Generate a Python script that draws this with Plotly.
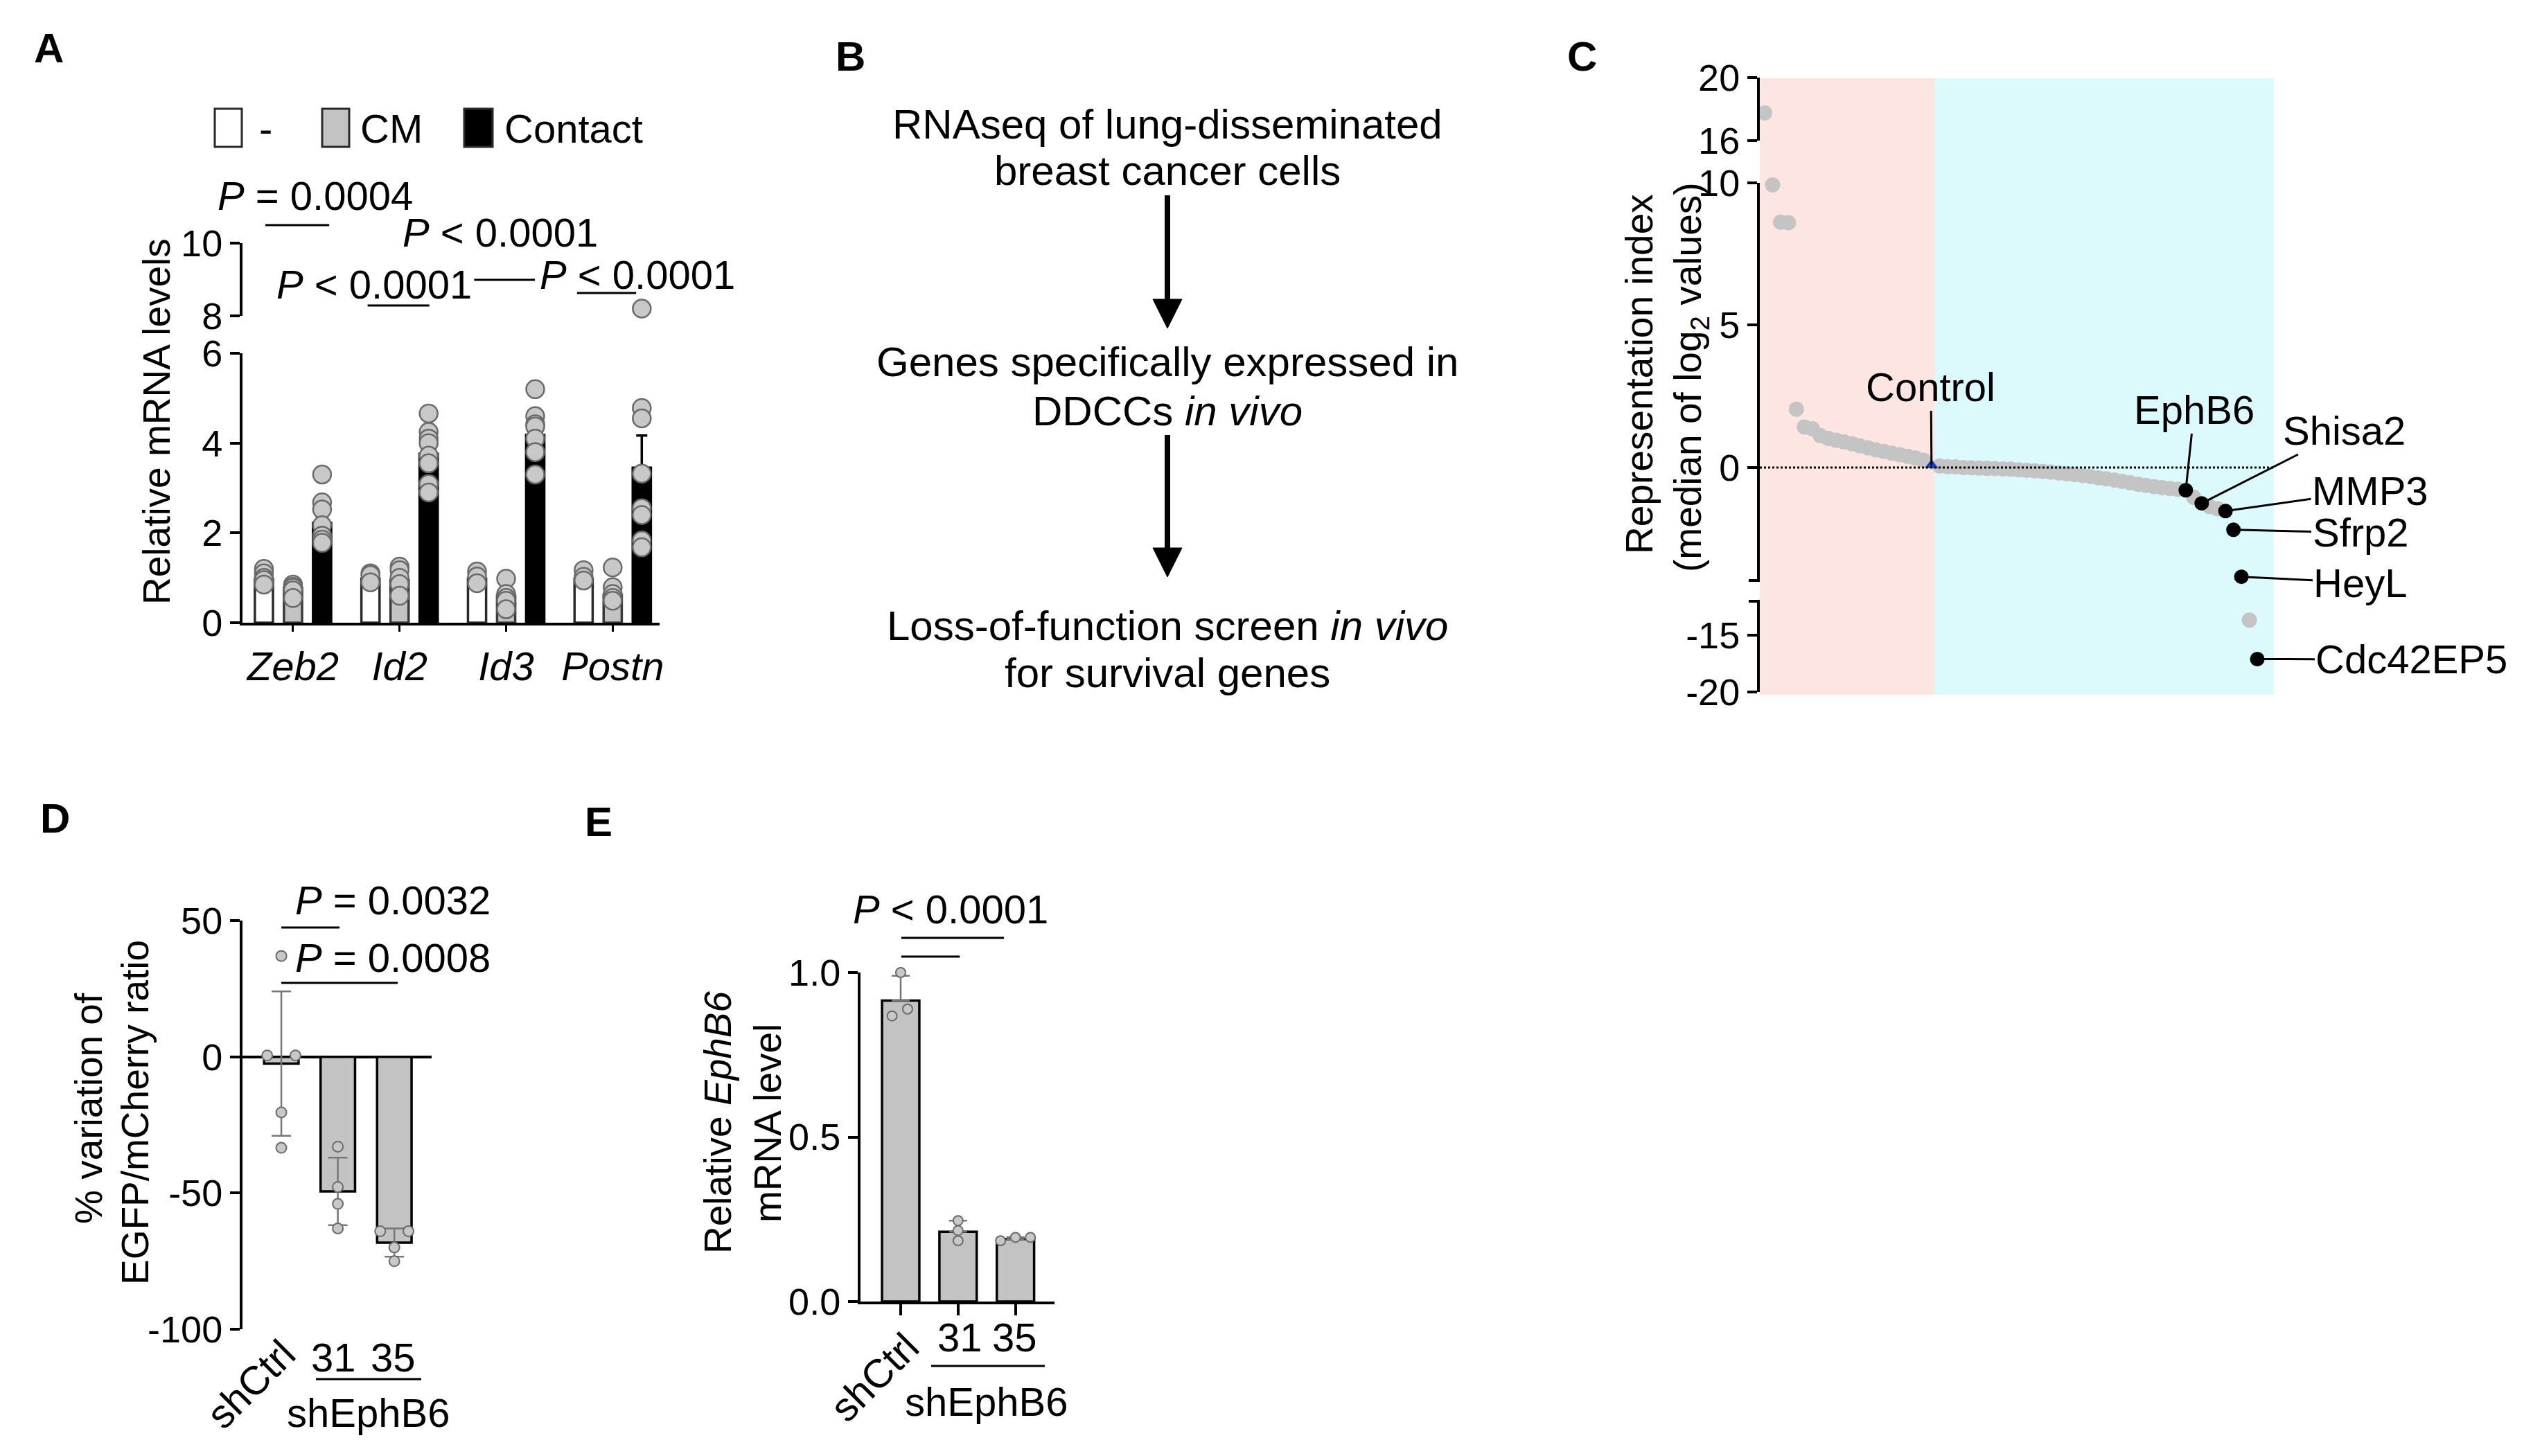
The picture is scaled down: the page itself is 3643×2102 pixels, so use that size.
import plotly.graph_objects as go

W, H = 3643, 2102
OFF = 8       # page margin of the browser, compensated
FONT = "Liberation Sans, Arial, Helvetica, sans-serif"
FS = 58       # horizontal texts
FSB = 60      # flow chart texts
FSV = 55      # rotated axis titles
TFS = 54      # tick labels
GRAY_FILL = "#c3c3c3"
DOT_FILL = "#c8c8c8"
DOT_LINE = "#6a6a6a"

# ---------------- Panel A data ----------------
A_genes = ["Zeb2", "Id2", "Id3", "Postn"]
A_mean_none = [0.97, 0.98, 0.98, 0.98]
A_mean_cm = [0.78, 0.95, 0.60, 0.62]
A_mean_contact = [2.22, 3.76, 4.18, 3.45]
A_sem_none = [0.06, 0.05, 0.05, 0.05]
A_sem_cm = [0.05, 0.10, 0.10, 0.12]
A_sem_contact = [0.20, 0.22, 0.25, 0.72]
A_dots_none = [[1.20, 1.10, 1.00, 0.95, 0.85], [1.10, 1.06, 0.90], [1.14, 1.03, 0.88], [1.17, 1.02, 0.94]]
A_dots_cm = [[0.85, 0.80, 0.78, 0.72, 0.55], [1.25, 1.17, 1.00, 0.86, 0.60],
             [0.98, 0.64, 0.55, 0.49, 0.30], [1.23, 0.79, 0.64, 0.55, 0.49]]
A_dots_contact = [[3.30, 2.68, 2.52, 2.17, 1.94, 1.85, 1.78],
                  [4.66, 4.25, 4.10, 4.00, 3.72, 3.55, 3.09, 2.90],
                  [5.20, 4.60, 4.42, 4.37, 4.10, 3.80, 3.30],
                  [8.20, 4.78, 4.55, 3.32, 2.55, 2.40, 1.83, 1.68]]
A_legend = ["-", "CM", "Contact"]

# ---------------- Panel B text ----------------
B_steps = [["RNAseq of lung-disseminated", "breast cancer cells"],
           ["Genes specifically expressed in", "DDCCs <i>in vivo</i>"],
           ["Loss-of-function screen <i>in vivo</i>", "for survival genes"]]

# ---------------- Panel C data ----------------
C_values = [17.76, 9.93, 8.62, 8.60, 2.05, 1.42, 1.36, 1.12, 1.02, 0.96,
            0.90, 0.83, 0.76, 0.69, 0.62, 0.56, 0.50, 0.45, 0.39, 0.33,
            0.25, 0.08, 0.05, 0.03, 0.02, 0.00, -0.01, -0.02, -0.03, -0.04,
            -0.05, -0.06, -0.08, -0.10, -0.12, -0.14, -0.16, -0.19, -0.22, -0.25,
            -0.28, -0.32, -0.36, -0.40, -0.44, -0.49, -0.54, -0.59, -0.63, -0.67,
            -0.71, -0.74, -0.77, -0.80, -1.05, -1.26, -1.38, -1.45, -1.53, -2.19,
            -3.84, -13.66, -17.10]
C_control_rank = 22
C_hit_names = ["EphB6", "Shisa2", "MMP3", "Sfrp2", "HeyL", "Cdc42EP5"]
C_hit_ranks = [54, 56, 59, 60, 61, 63]

# ---------------- Panel D data ----------------
D_groups = ["shCtrl", "31", "35"]
D_mean = [-2.5, -49.4, -68.2]
D_sd = [26.5, 12.4, 5.2]
D_dots = [[37.0, 0.5, 0.5, -20.4, -33.4], [-33.0, -47.8, -54.0, -63.0], [-64.0, -64.0, -70.0, -75.0]]
D_jitter = [[0, -0.25, 0.25, 0, 0], [0, 0, 0, 0], [-0.25, 0.25, 0, 0]]
D_ticks = [-100, -50, 0, 50]

# ---------------- Panel E data ----------------
E_groups = ["shCtrl", "31", "35"]
E_mean = [0.915, 0.212, 0.190]
E_sd = [0.075, 0.034, 0.006]
E_dots = [[1.00, 0.868, 0.889], [0.246, 0.216, 0.185], [0.185, 0.195, 0.195]]
E_jitter = [[0, -0.15, 0.12], [0, 0, 0], [-0.26, 0, 0.26]]


def fx(px):
    return (px - OFF) / W


def fy(py):
    return 1 - (py - OFF) / H


def font(size=FS, color="black"):
    return dict(family=FONT, size=size, color=color)


fig = go.Figure()
annotations = []
shapes = []


def txt(text, px, py, size=FS, angle=0, xanchor="center"):
    annotations.append(dict(text=text, x=fx(px), y=fy(py), xref="paper", yref="paper",
                            showarrow=False, font=font(size), xanchor=xanchor,
                            yanchor="middle", textangle=angle))


def pline(x0, x1, py, xref="paper", width=3):
    if xref == "paper":
        x0, x1 = fx(x0), fx(x1)
    shapes.append(dict(type="line", xref=xref, yref="paper", x0=x0, x1=x1,
                       y0=fy(py), y1=fy(py), line=dict(color="black", width=width)))


# ================= Panel A =================
A_off = [-0.273, 0.0, 0.273]
A_sets = [
    (A_mean_none, A_sem_none, A_dots_none, "white", "#2a2a2a"),
    (A_mean_cm, A_sem_cm, A_dots_cm, GRAY_FILL, "#3a3a3a"),
    (A_mean_contact, A_sem_contact, A_dots_contact, "black", "black"),
]
for k, (means, sems, dots, fill, lc) in enumerate(A_sets):
    xs = [i + A_off[k] for i in range(len(A_genes))]
    fig.add_trace(go.Bar(x=xs, y=means, width=0.17, xaxis="x", yaxis="y",
                         marker=dict(color=fill, line=dict(color=lc, width=3.5)),
                         error_y=dict(type="data", array=sems, arrayminus=[0] * 4, symmetric=False,
                                      color=lc, thickness=3.5, width=8),
                         showlegend=False))
for k, (means, sems, dots, fill, lc) in enumerate(A_sets):
    lo_x, lo_y, hi_x, hi_y = [], [], [], []
    for i, vals in enumerate(dots):
        for v in vals:
            if v >= 8:
                hi_x.append(i + A_off[k]); hi_y.append(v)
            else:
                lo_x.append(i + A_off[k]); lo_y.append(v)
    mk = dict(size=26, color=DOT_FILL, line=dict(color=DOT_LINE, width=2.5))
    fig.add_trace(go.Scatter(x=lo_x, y=lo_y, mode="markers", marker=mk, xaxis="x", yaxis="y",
                             cliponaxis=False, showlegend=False))
    if hi_x:
        fig.add_trace(go.Scatter(x=hi_x, y=hi_y, mode="markers", marker=mk, xaxis="x", yaxis="y2",
                                 cliponaxis=False, showlegend=False))

# legend of A
for (x0, x1, fill), label, tx in zip([(310, 349, "white"), (465, 504, GRAY_FILL), (670, 711, "black")],
                                     A_legend, [372, 518, 726]):
    shapes.append(dict(type="rect", xref="paper", yref="paper", x0=fx(x0), x1=fx(x1),
                       y0=fy(212), y1=fy(157), fillcolor=fill, line=dict(color="#2a2a2a", width=3)))
    txt(label, tx, 185, xanchor="left")

# significance in A
A_sig_lines = [(0, -0.26, 0.34, 325), (1, -0.30, 0.28, 441), (2, -0.30, 0.27, 404), (3, -0.335, 0.22, 423)]
for g, a, b, py in A_sig_lines:
    pline(g + a, g + b, py, xref="x")
txt("<i>P</i> = 0.0004", 455, 282)
txt("<i>P</i> &lt; 0.0001", 722, 335)
txt("<i>P</i> &lt; 0.0001", 540, 410)
txt("<i>P</i> &lt; 0.0001", 920, 396)
txt("Relative mRNA levels", 226, 609, size=FSV, angle=-90)

# ================= Panel B =================
B_y = [(179, 247), (522, 593), (904, 971)]
for lines, (y1, y2) in zip(B_steps, B_y):
    txt(lines[0], 1685, y1, size=FSB)
    txt(lines[1], 1685, y2, size=FSB)
for top, tip in [(282, 474), (628, 833)]:
    shapes.append(dict(type="line", xref="paper", yref="paper", x0=fx(1685), x1=fx(1685),
                       y0=fy(top), y1=fy(tip - 36), line=dict(color="black", width=8)))
    shapes.append(dict(type="path", xref="paper", yref="paper",
                       path=f"M {fx(1664)} {fy(tip - 42)} L {fx(1706)} {fy(tip - 42)} L {fx(1685)} {fy(tip)} Z",
                       fillcolor="black", line=dict(color="black", width=1)))

# ================= Panel C =================
C_XR = [0.39, 65.09]
C_ranks = list(range(1, len(C_values) + 1))


def c_axis(v):
    if v >= 16:
        return "y3"
    if v >= -4:
        return "y4"
    return "y5"


def c_px(rank, v):
    px = 2540 + (rank - C_XR[0]) / (C_XR[1] - C_XR[0]) * (3282 - 2540)
    ax = c_axis(v)
    if ax == "y3":
        py = 203 - (v - 16) / 4 * (203 - 112)
    elif ax == "y4":
        py = 838 - (v + 3.97) / 13.97 * (838 - 264)
    else:
        py = 999 - (v + 20) / 8 * (999 - 868)
    return px, py


def add_c_points(ranks, color, size, symbol="circle"):
    groups = {}
    for r in ranks:
        v = C_values[r - 1]
        groups.setdefault(c_axis(v), ([], []))
        groups[c_axis(v)][0].append(r)
        groups[c_axis(v)][1].append(v)
    for ax, (xs, ys) in groups.items():
        fig.add_trace(go.Scatter(x=xs, y=ys, mode="markers", xaxis="x2", yaxis=ax,
                                 marker=dict(size=size, color=color, symbol=symbol, line=dict(width=0)),
                                 cliponaxis=False, showlegend=False))


gray_ranks = [r for r in C_ranks if r not in C_hit_ranks and r != C_control_rank]
add_c_points(gray_ranks, "#c4c4c4", 22)
add_c_points(C_hit_ranks, "black", 21)
add_c_points([C_control_rank], "#1b3fd0", 17, symbol="triangle-up")

# backgrounds
shapes.append(dict(type="rect", xref="paper", yref="paper", x0=fx(2540), x1=fx(2792), y0=fy(1003), y1=fy(113),
                   fillcolor="#fde6e1", line=dict(width=0), layer="below"))
shapes.append(dict(type="rect", xref="paper", yref="paper", x0=fx(2792), x1=fx(3282), y0=fy(1003), y1=fy(113),
                   fillcolor="#dcfafc", line=dict(width=0), layer="below"))
shapes.append(dict(type="line", xref="paper", yref="y4", x0=fx(2540), x1=fx(3282), y0=0, y1=0,
                   line=dict(color="black", width=3, dash="dot")))
# small end ticks at the axis breaks
for py in (838, 868):
    shapes.append(dict(type="line", xref="paper", yref="paper", x0=fx(2524), x1=fx(2540), y0=fy(py), y1=fy(py),
                       line=dict(color="black", width=4)))

C_label_pos = [(3167, 592), (3384, 622), (3421, 708), (3407, 769), (3407, 841), (3481, 952)]
for name, r, (tx, ty) in zip(["Control"] + C_hit_names, [C_control_rank] + C_hit_ranks,
                             [(2787, 559)] + C_label_pos):
    v = C_values[r - 1]
    px, py = c_px(r, v)
    annotations.append(dict(text=name, x=r, y=v, xref="x2", yref=c_axis(v), showarrow=True,
                            arrowhead=0, arrowwidth=3, arrowcolor="black", standoff=0,
                            ax=tx - px, ay=ty - py, font=font()))
txt("Representation index", 2366, 540, size=FSV, angle=-90)
txt("(median of log<sub>2</sub> values)", 2440, 545, size=FSV, angle=-90)

# ================= Panel D =================
fig.add_trace(go.Bar(x=[0, 1, 2], y=D_mean, width=0.61, xaxis="x3", yaxis="y6",
                     marker=dict(color=GRAY_FILL, line=dict(color="black", width=3.5)),
                     error_y=dict(type="data", array=D_sd, color="#777777", thickness=2.5, width=14),
                     showlegend=False))
dx, dy = [], []
for i, (vals, jit) in enumerate(zip(D_dots, D_jitter)):
    for v, j in zip(vals, jit):
        dx.append(i + j); dy.append(v)
fig.add_trace(go.Scatter(x=dx, y=dy, mode="markers", xaxis="x3", yaxis="y6", cliponaxis=False,
                         marker=dict(size=15, color=DOT_FILL, line=dict(color=DOT_LINE, width=2)),
                         showlegend=False))
pline(0, 1.03, 1339, xref="x3")
pline(0, 2.06, 1419, xref="x3")
txt("<i>P</i> = 0.0032", 567, 1299)
txt("<i>P</i> = 0.0008", 567, 1382)
txt("% variation of", 128, 1600, size=FSV, angle=-90)
txt("EGFP/mCherry ratio", 195, 1606, size=FSV, angle=-90)
txt(D_groups[0], 361, 1998, angle=-45)
txt(D_groups[1], 482, 1959)
txt(D_groups[2], 567, 1959)
pline(456, 608, 1991)
txt("shEphB6", 531, 2039)

# ================= Panel E =================
fig.add_trace(go.Bar(x=[0, 1, 2], y=E_mean, width=0.65, xaxis="x4", yaxis="y7",
                     marker=dict(color=GRAY_FILL, line=dict(color="black", width=3.5)),
                     error_y=dict(type="data", array=E_sd, arrayminus=[0, 0, 0], symmetric=False,
                                  color="#777777", thickness=2.5, width=13),
                     showlegend=False))
ex, ey = [], []
for i, (vals, jit) in enumerate(zip(E_dots, E_jitter)):
    for v, j in zip(vals, jit):
        ex.append(i + j); ey.append(v)
fig.add_trace(go.Scatter(x=ex, y=ey, mode="markers", xaxis="x4", yaxis="y7", cliponaxis=False,
                         marker=dict(size=14, color=DOT_FILL, line=dict(color=DOT_LINE, width=2)),
                         showlegend=False))
pline(0.01, 1.8, 1354, xref="x4")
pline(0.01, 1.03, 1381, xref="x4")
txt("<i>P</i> &lt; 0.0001", 1372, 1312)
txt("Relative <i>EphB6</i>", 1036, 1620, size=FSV, angle=-90)
txt("mRNA level", 1108, 1622, size=FSV, angle=-90)
txt(E_groups[0], 1261, 1988, angle=-45)
txt(E_groups[1], 1385, 1930)
txt(E_groups[2], 1464, 1930)
pline(1344, 1508, 1972)
txt("shEphB6", 1423, 2023)

# panel letters
for L, px, py in [("A", 70, 70), ("B", 1227, 81), ("C", 2283, 81), ("D", 79, 1181), ("E", 864, 1186)]:
    txt(f"<b>{L}</b>", px, py, size=60)

# ================= Axes =================
base_y = dict(showline=True, linewidth=4, linecolor="black", ticks="outside", tickwidth=4,
              ticklen=14, tickcolor="black", showgrid=False, zeroline=False, tickfont=font(TFS),
              automargin=False)
hidden_x = dict(visible=False, showgrid=False, zeroline=False, automargin=False)

fig.update_layout(
    template="none",
    width=W, height=H, margin=dict(l=0, r=0, t=0, b=0, pad=0, autoexpand=False),
    paper_bgcolor="white", plot_bgcolor="rgba(0,0,0,0)",
    barmode="overlay", showlegend=False, font=font(),
    xaxis=dict(domain=[fx(350), fx(952)], range=[-0.474, 3.44], anchor="y", showline=True,
               linewidth=4, linecolor="black", ticks="outside", ticklen=9, tickwidth=3, tickcolor="black",
               tickvals=[0, 1, 2, 3], ticktext=[f"<i>{g}</i>" for g in A_genes],
               tickfont=font(FS), showgrid=False, zeroline=False, automargin=False),
    yaxis=dict(domain=[fy(899), fy(510)], range=[0, 6], anchor="x", tickvals=[0, 2, 4, 6], **base_y),
    yaxis2=dict(domain=[fy(456), fy(351)], range=[8, 10], anchor="x", tickvals=[8, 10], **base_y),
    xaxis2=dict(domain=[fx(2540), fx(3282)], range=C_XR, anchor="y4", **hidden_x),
    yaxis3=dict(domain=[fy(203), fy(112)], range=[16, 20], anchor="x2", tickvals=[16, 20], **base_y),
    yaxis4=dict(domain=[fy(838), fy(264)], range=[-3.97, 10], anchor="x2", tickvals=[0, 5, 10], **base_y),
    yaxis5=dict(domain=[fy(999), fy(868)], range=[-20, -12], anchor="x2", tickvals=[-20, -15],
                ticktext=["-20", "-15"], **base_y),
    xaxis3=dict(domain=[fx(350), fx(623)], range=[-0.687, 2.66], anchor="y6", **hidden_x),
    yaxis6=dict(domain=[fy(1919), fy(1329)], range=[-100, 50], anchor="x3", tickvals=D_ticks,
                ticktext=[str(t) for t in D_ticks],
                showline=True, linewidth=4, linecolor="black", ticks="outside", tickwidth=4, ticklen=14,
                tickcolor="black", showgrid=False, zeroline=True, zerolinecolor="black", zerolinewidth=4,
                tickfont=font(TFS), automargin=False),
    xaxis4=dict(domain=[fx(1242), fx(1522)], range=[-0.70, 2.68], anchor="y7", showline=True, linewidth=4,
                linecolor="black", ticks="outside", ticklen=16, tickwidth=4, tickcolor="black",
                tickvals=[0, 1, 2], showticklabels=False, showgrid=False, zeroline=False, automargin=False),
    yaxis7=dict(domain=[fy(1879), fy(1404)], range=[0, 1], anchor="x4", tickvals=[0, 0.5, 1],
                ticktext=["0.0", "0.5", "1.0"], **base_y),
    annotations=annotations, shapes=shapes,
)

fig.write_html("out.html")
